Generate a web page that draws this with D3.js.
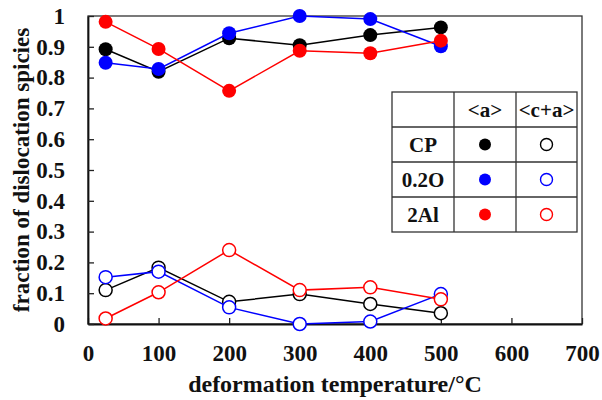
<!DOCTYPE html>
<html>
<head>
<meta charset="utf-8">
<script src="https://cdn.jsdelivr.net/npm/d3@7"></script>
<style>
  html, body { margin: 0; padding: 0; background: #fff; }
  text { font-family: "Liberation Serif", "Times New Roman", serif; font-weight: bold; fill: #111; }
</style>
</head>
<body>
<svg id="chart" width="602" height="400"></svg>
<script>
const temperatures = [25, 100, 200, 300, 400, 500];
const seriesNames = ["CP", "0.2O", "2Al"];
const seriesColors = ["#000000", "#0000ff", "#ff0000"];
const aCP   = [0.892, 0.819, 0.928, 0.905, 0.938, 0.963];
const aO    = [0.848, 0.828, 0.944, 1.000, 0.990, 0.902];
const aAl   = [0.981, 0.893, 0.757, 0.887, 0.879, 0.920];
const caCP  = [0.110, 0.183, 0.072, 0.097, 0.065, 0.035];
const caO   = [0.152, 0.170, 0.054, 0.000, 0.008, 0.097];
const caAl  = [0.018, 0.103, 0.240, 0.110, 0.119, 0.080];
const xTicks = [0, 100, 200, 300, 400, 500, 600, 700];
const yTicks = [0, 0.1, 0.2, 0.3, 0.4, 0.5, 0.6, 0.7, 0.8, 0.9, 1];
const legendCols = ["<a>", "<c+a>"];

const svg = d3.select("#chart");
const m = { left: 88, right: 582, top: 16, bottom: 324 };
const x = d3.scaleLinear().domain([0, 700]).range([m.left, m.right]);
const y = d3.scaleLinear().domain([0, 1]).range([m.bottom, m.top]);

// frame
svg.append("rect").attr("x", m.left).attr("y", m.top)
  .attr("width", m.right - m.left).attr("height", m.bottom - m.top)
  .attr("fill", "none").attr("stroke", "#333").attr("stroke-width", 1.3);

// axes
const xAxis = svg.append("g").attr("transform", `translate(0,${m.bottom})`)
  .call(d3.axisBottom(x).tickValues(xTicks).tickSizeInner(-6).tickSizeOuter(0).tickPadding(21).tickFormat(d3.format("d")));
const yAxis = svg.append("g").attr("transform", `translate(${m.left},0)`)
  .call(d3.axisLeft(y).tickValues(yTicks).tickSizeInner(-6).tickSizeOuter(0).tickPadding(23)
    .tickFormat(d => d === 0 ? "0" : d === 1 ? "1" : d3.format(".1f")(d)));
[xAxis, yAxis].forEach(g => {
  g.select(".domain").attr("stroke", "#111").attr("stroke-width", 1.8);
  g.selectAll(".tick line").attr("stroke", "#222").attr("stroke-width", 1.3);
  g.selectAll(".tick text").style("font-family", "Liberation Serif, serif").style("font-weight", "bold")
    .style("font-size", "23px").attr("fill", "#111");
});
xAxis.selectAll(".tick text").attr("dy", "0.71em");

// titles
svg.append("text").attr("x", 335).attr("y", 392).attr("text-anchor", "middle")
  .style("font-size", "24px").text("deformation temperature/°C");
svg.append("text").attr("transform", "translate(29,170) rotate(-90)").attr("text-anchor", "middle")
  .style("font-size", "23px").text("fraction of dislocation spicies");

const aSeries = [aCP, aO, aAl];
const caSeries = [caCP, caO, caAl];
const line = d3.line().x((d, i) => x(temperatures[i])).y(d => y(d));

function drawSeries(vals, color, filled) {
  svg.append("path").datum(vals).attr("d", line)
    .attr("fill", "none").attr("stroke", color).attr("stroke-width", 1.5);
  svg.selectAll(null).data(vals).enter().append("circle")
    .attr("cx", (d, i) => x(temperatures[i])).attr("cy", d => y(d))
    .attr("r", filled ? 7 : 6.5)
    .attr("fill", filled ? color : "#fff")
    .attr("stroke", color).attr("stroke-width", filled ? 0 : 1.5);
}
caSeries.forEach((v, i) => drawSeries(v, seriesColors[i], false));
aSeries.forEach((v, i) => drawSeries(v, seriesColors[i], true));

// legend table
const lx = [392, 454, 516, 577];
const ly = [92, 127, 162, 197, 232];
const lg = svg.append("g");
lg.append("rect").attr("x", lx[0]).attr("y", ly[0]).attr("width", lx[3] - lx[0]).attr("height", ly[4] - ly[0])
  .attr("fill", "#fff").attr("stroke", "#333").attr("stroke-width", 1.3);
lx.slice(1, 3).forEach(v => lg.append("line").attr("x1", v).attr("x2", v).attr("y1", ly[0]).attr("y2", ly[4])
  .attr("stroke", "#333").attr("stroke-width", 1.3));
ly.slice(1, 4).forEach(v => lg.append("line").attr("x1", lx[0]).attr("x2", lx[3]).attr("y1", v).attr("y2", v)
  .attr("stroke", "#333").attr("stroke-width", 1.3));
legendCols.forEach((t, j) => lg.append("text").attr("x", (lx[j + 1] + lx[j + 2]) / 2).attr("y", (ly[0] + ly[1]) / 2 + 7)
  .attr("text-anchor", "middle").style("font-size", "21px").text(t));
seriesNames.forEach((n, i) => {
  const cy = (ly[i + 1] + ly[i + 2]) / 2;
  lg.append("text").attr("x", (lx[0] + lx[1]) / 2).attr("y", cy + 7.5).attr("text-anchor", "middle")
    .style("font-size", "21px").text(n);
  lg.append("circle").attr("cx", (lx[1] + lx[2]) / 2).attr("cy", cy).attr("r", 6).attr("fill", seriesColors[i]);
  lg.append("circle").attr("cx", (lx[2] + lx[3]) / 2).attr("cy", cy).attr("r", 6)
    .attr("fill", "#fff").attr("stroke", seriesColors[i]).attr("stroke-width", 1.4);
});
</script>
</body>
</html>
